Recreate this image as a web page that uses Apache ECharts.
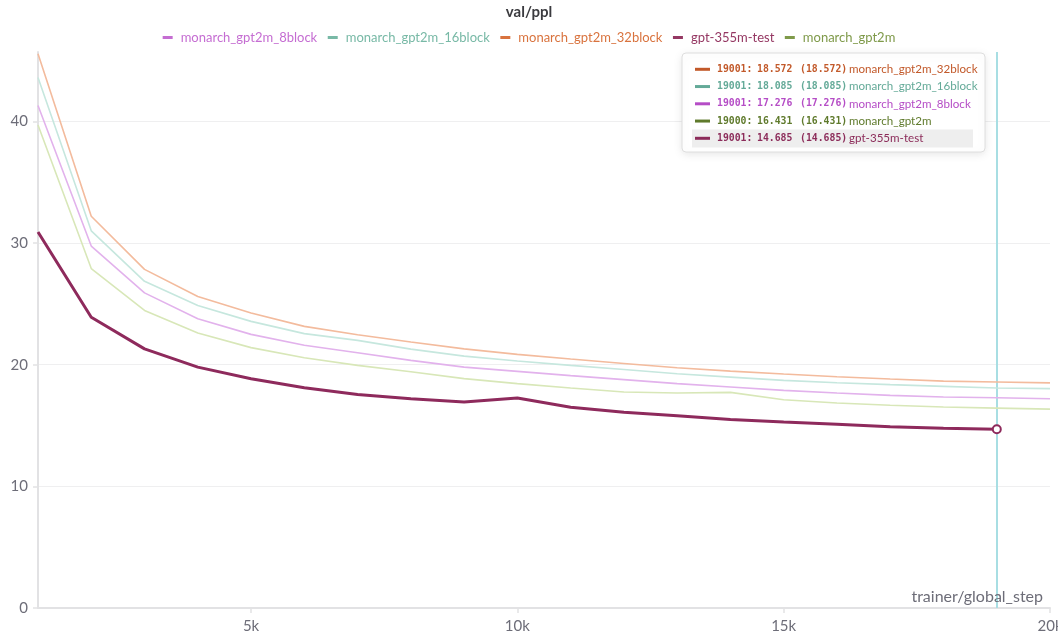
<!DOCTYPE html>
<html>
<head>
<meta charset="utf-8">
<script src="https://cdn.jsdelivr.net/npm/echarts@6/dist/echarts.min.js"></script>
<style>
html,body{margin:0;padding:0;background:#fff;}
#chart{width:1058px;height:639px;}
</style>
</head>
<body>
<div id="chart"></div>
<script>
// ---- data ----
const seriesNames = ['monarch_gpt2m_8block','monarch_gpt2m_16block','monarch_gpt2m_32block','gpt-355m-test','monarch_gpt2m'];
const stepsMonarch = [1000,2000,3000,4000,5000,6000,7000,8000,9000,10000,11000,12000,13000,14000,15000,16000,17000,18000,19001,20000];
const stepsGpt2m   = [1000,2000,3000,4000,5000,6000,7000,8000,9000,10000,11000,12000,13000,14000,15000,16000,17000,18000,19000,20000];
const stepsGpt355  = [1000,2000,3000,4000,5000,6000,7000,8000,9000,10000,11000,12000,13000,14000,15000,16000,17000,18000,19001];
const ppl8block  = [41.3,29.75,25.9,23.78,22.49,21.59,20.98,20.35,19.8,19.45,19.1,18.77,18.44,18.16,17.89,17.67,17.48,17.34,17.276,17.2];
const ppl16block = [43.6,31.0,26.85,24.87,23.56,22.55,22.0,21.28,20.7,20.3,19.94,19.6,19.26,18.98,18.71,18.52,18.36,18.22,18.085,18.03];
const ppl32block = [45.55,32.2,27.83,25.6,24.24,23.15,22.46,21.86,21.3,20.85,20.46,20.1,19.75,19.47,19.23,19.01,18.82,18.65,18.572,18.5];
const pplGpt2m   = [39.7,27.9,24.46,22.6,21.4,20.57,19.94,19.42,18.85,18.44,18.08,17.75,17.67,17.72,17.12,16.85,16.66,16.52,16.431,16.35];
const pplGpt355  = [30.9,23.9,21.3,19.8,18.85,18.1,17.55,17.2,16.93,17.26,16.5,16.08,15.8,15.5,15.28,15.1,14.9,14.78,14.685];
const xTickValues = [5000,10000,15000,20000];
const hoverStep = 19001;
// tooltip rows: [step, value, name]
const tipRows = [
  ['19001', '18.572', 'monarch_gpt2m_32block'],
  ['19001', '18.085', 'monarch_gpt2m_16block'],
  ['19001', '17.276', 'monarch_gpt2m_8block'],
  ['19000', '16.431', 'monarch_gpt2m'],
  ['19001', '14.685', 'gpt-355m-test']
];

// ---- styles ----
const lineColors = {
  'monarch_gpt2m_8block':'#e2b2ec',
  'monarch_gpt2m_16block':'#c6e7de',
  'monarch_gpt2m_32block':'#f3bb9d',
  'gpt-355m-test':'#8e2a5c',
  'monarch_gpt2m':'#d8e7b8'
};
const legendColors = {
  'monarch_gpt2m_8block':'#c56dd2',
  'monarch_gpt2m_16block':'#78b9a6',
  'monarch_gpt2m_32block':'#d9733e',
  'gpt-355m-test':'#953863',
  'monarch_gpt2m':'#7f9a4a'
};
const tipColors = {
  'monarch_gpt2m_32block':'#c2592a',
  'monarch_gpt2m_16block':'#64aa98',
  'monarch_gpt2m_8block':'#b54dc6',
  'monarch_gpt2m':'#5f7a2c',
  'gpt-355m-test':'#8c2c5a'
};

function pairs(xs, ys){ return xs.map((x,i)=>[x, ys[i]]); }

const FONT = 'Lato, "Noto Sans", sans-serif';
const MONO = '"DejaVu Sans Mono", monospace';
const axisGray = '#e2e2e4';
const labelGray = '#6d6d78';

function lightSeries(name, xs, ys){
  return {
    name, type:'line', data: pairs(xs, ys), symbol:'none', smooth:false,
    lineStyle:{color: lineColors[name], width:1.6},
    itemStyle:{color: lineColors[name]}, z:2, animation:false, silent:true
  };
}

const gptData = pairs(stepsGpt355, pplGpt355).map((p,i,arr)=> i===arr.length-1 ? {
  value:p, symbol:'circle', symbolSize:8,
  itemStyle:{color:'#ffffff', borderColor:'#8e2a5c', borderWidth:2}
} : p);

const graphics = [
  {type:'text', left:'center', top:5, style:{text:'val/ppl', font:'bold 15px '+FONT, fill:'#3b3b3f'}},
  {type:'text', right:15, top:589, style:{text:'trainer/global_step', font:'16px '+FONT, fill:labelGray}, z:5}
];
// tooltip box
const boxX = 682, boxY = 53, boxW = 303, boxH = 99;
graphics.push({type:'rect', shape:{x:boxX, y:boxY, width:boxW, height:boxH, r:4},
  style:{fill:'#ffffff', stroke:'#dedede', lineWidth:1, shadowBlur:10, shadowColor:'rgba(0,0,0,0.10)', shadowOffsetY:2}, z:20});
graphics.push({type:'rect', shape:{x:692, y:129.5, width:281, height:18}, style:{fill:'#eeeeee'}, z:21});
tipRows.forEach((r,i)=>{
  const cy = 69.3 + i*17.25;
  const c = tipColors[r[2]];
  const vf = 'bold 9.8px ' + MONO;
  graphics.push({type:'rect', shape:{x:695, y:cy-1.5, width:15, height:3}, style:{fill:c}, z:22});
  graphics.push({type:'text', x:717, y:cy, style:{text: r[0]+':', font:vf, fill:c, verticalAlign:'middle'}, z:22});
  graphics.push({type:'text', x:757, y:cy, style:{text: r[1], font:vf, fill:c, verticalAlign:'middle'}, z:22});
  graphics.push({type:'text', x:800, y:cy, style:{text: '('+r[1]+')', font:vf, fill:c, verticalAlign:'middle'}, z:22});
  graphics.push({type:'text', x:849, y:cy, style:{text: r[2], font:'11.6px '+FONT, fill:c, verticalAlign:'middle'}, z:22});
});

const option = {
  animation:false,
  textStyle:{fontFamily: FONT},
  legend:{
    top:26, left:'center', itemWidth:10, itemHeight:3, itemGap:10.5, icon:'rect',
    textStyle:{fontSize:13, fontFamily:FONT, padding:[0,0,0,3]},
    data: seriesNames.map(n=>({name:n, itemStyle:{color:legendColors[n]}, textStyle:{color:legendColors[n]}}))
  },
  grid:{left:38, right:8, top:52, bottom:31, containLabel:false, outerBoundsMode:'none'},
  xAxis:{
    type:'value', min:1000, max:20000,
    axisLine:{show:true, lineStyle:{color:axisGray, width:2}},
    axisTick:{show:true, customValues:xTickValues, length:5, lineStyle:{color:axisGray, width:1.5}},
    axisLabel:{customValues:xTickValues, formatter:v=>(v/1000)+'k', color:labelGray, fontSize:15, margin:11},
    splitLine:{show:false}
  },
  yAxis:{
    type:'value', min:0, max:45.7, interval:10,
    axisLine:{show:true, lineStyle:{color:axisGray, width:2}},
    axisTick:{show:true, length:5, lineStyle:{color:axisGray, width:1.5}},
    axisLabel:{color:labelGray, fontSize:15, margin:10, showMaxLabel:false},
    splitLine:{show:true, showMinLine:false, showMaxLine:false, lineStyle:{color:'#efeff0', width:1}}
  },
  series:[
    lightSeries('monarch_gpt2m', stepsGpt2m, pplGpt2m),
    lightSeries('monarch_gpt2m_8block', stepsMonarch, ppl8block),
    lightSeries('monarch_gpt2m_16block', stepsMonarch, ppl16block),
    lightSeries('monarch_gpt2m_32block', stepsMonarch, ppl32block),
    {
      name:'gpt-355m-test', type:'line', data:gptData, symbol:'none', showSymbol:true,
      lineStyle:{color:lineColors['gpt-355m-test'], width:3},
      itemStyle:{color:lineColors['gpt-355m-test']}, z:4, silent:true,
      markLine:{
        silent:true, symbol:'none', label:{show:false},
        lineStyle:{color:'#a8dee3', width:2, type:'solid'},
        data:[{xAxis:hoverStep}], z:1
      }
    }
  ],
  graphic: graphics
};

const chart = echarts.init(document.getElementById('chart'), null, {renderer:'canvas'});
chart.setOption(option);
</script>
</body>
</html>
